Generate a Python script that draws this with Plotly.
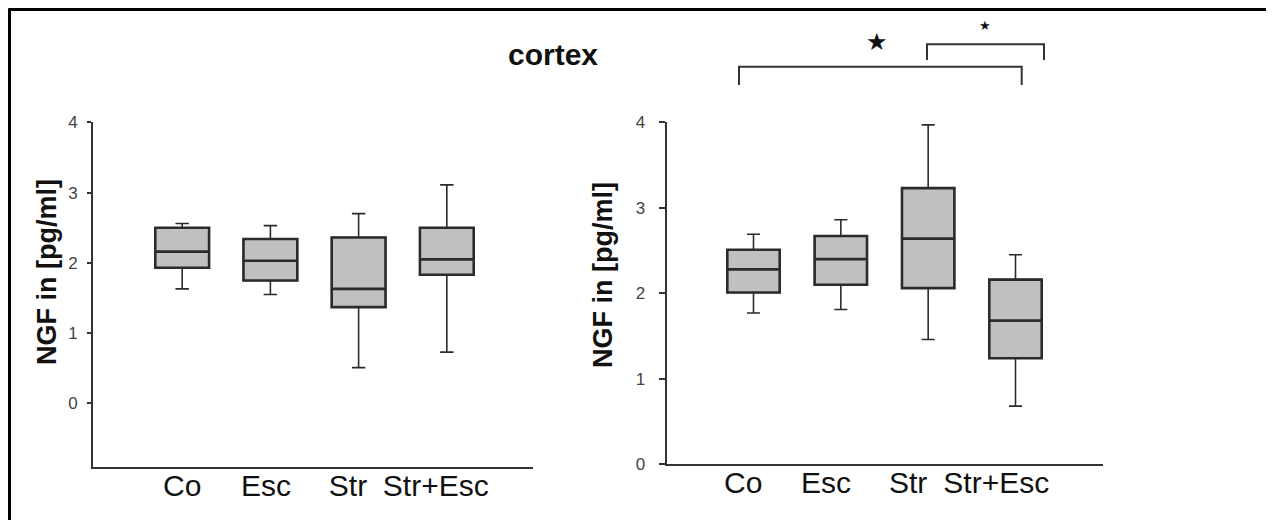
import plotly.graph_objects as go

W, H = 1274, 528
OFF = 8  # page body margin of the html page
FW, FH = W - 2 * OFF, H - 2 * OFF

categories = ["Co", "Esc", "Str", "Str+Esc"]

# left panel
left_low = [1.63, 1.55, 0.51, 0.73]
left_q1 = [1.93, 1.75, 1.37, 1.83]
left_med = [2.16, 2.03, 1.63, 2.05]
left_q3 = [2.50, 2.34, 2.36, 2.50]
left_high = [2.56, 2.53, 2.70, 3.11]

# right panel
right_low = [1.77, 1.81, 1.46, 0.68]
right_q1 = [2.01, 2.10, 2.06, 1.24]
right_med = [2.28, 2.40, 2.64, 1.68]
right_q3 = [2.51, 2.67, 3.23, 2.16]
right_high = [2.69, 2.86, 3.97, 2.45]

y_ticks = [0, 1, 2, 3, 4]
title_text = "cortex"
y_title = "NGF in [pg/ml]"

box_pos = [0, 1, 2, 3]
left_label_pos = [0, 0.95, 1.88, 2.875]
right_label_pos = [-0.117, 0.83, 1.77, 2.78]


def px(x):
    return (x - OFF) / FW


def py(y):
    return 1 - (y - OFF) / FH


fill = "#c0c0c0"
edge = "#2b2b2b"

fig = go.Figure()


def add_boxes(low, q1, med, q3, high, xa, ya, width):
    # whiskers (thin)
    fig.add_trace(go.Box(
        x=box_pos, q1=q1, median=med, q3=q3, lowerfence=low, upperfence=high,
        fillcolor=fill, line=dict(color=edge, width=1.6), width=width,
        whiskerwidth=0.25, boxpoints=False, showlegend=False,
        xaxis=xa, yaxis=ya, hoverinfo="skip",
    ))
    # boxes (thick outline)
    fig.add_trace(go.Box(
        x=box_pos, q1=q1, median=med, q3=q3, lowerfence=q1, upperfence=q3,
        fillcolor=fill, line=dict(color=edge, width=2.6), width=width,
        whiskerwidth=0, boxpoints=False, showlegend=False,
        xaxis=xa, yaxis=ya, hoverinfo="skip",
    ))


add_boxes(left_low, left_q1, left_med, left_q3, left_high, "x", "y", 0.61)
add_boxes(right_low, right_q1, right_med, right_q3, right_high, "x2", "y2", 0.6)

tickfont = dict(family="Liberation Sans, Arial, sans-serif", size=17, color="#444")
catfont = dict(family="Liberation Sans, Arial, sans-serif", size=30, color="#111")

fig.update_layout(
    width=FW, height=FH,
    margin=dict(l=0, r=0, t=0, b=0),
    paper_bgcolor="white", plot_bgcolor="white",
    xaxis=dict(
        domain=[px(93), px(533)], range=[-1.011, 3.977],
        tickvals=left_label_pos, ticktext=categories, tickfont=catfont,
        showline=True, linecolor="#333", linewidth=2, ticks="",
        showgrid=False, zeroline=False, anchor="y", automargin=False,
        ticklabelstandoff=-9,
    ),
    yaxis=dict(
        domain=[py(466.7), py(122.3)], range=[-0.9, 4],
        tickvals=y_ticks, tickfont=tickfont,
        showline=True, linecolor="#333", linewidth=2,
        ticks="outside", ticklen=4, tickwidth=1.5, tickcolor="#333",
        showgrid=False, zeroline=False, anchor="x", automargin=False,
        ticklabelstandoff=6,
    ),
    xaxis2=dict(
        domain=[px(666.7), px(1103)], range=[-0.994, 4.002],
        tickvals=right_label_pos, ticktext=categories, tickfont=catfont,
        showline=True, linecolor="#333", linewidth=2, ticks="",
        showgrid=False, zeroline=False, anchor="y2", automargin=False,
        ticklabelstandoff=-9,
    ),
    yaxis2=dict(
        domain=[py(464.3), py(122.3)], range=[0, 4],
        tickvals=y_ticks, tickfont=tickfont,
        showline=True, linecolor="#333", linewidth=2,
        ticks="outside", ticklen=6, tickwidth=1.5, tickcolor="#333",
        showgrid=False, zeroline=False, anchor="x2", automargin=False,
        ticklabelstandoff=10,
    ),
)

ann = []
ann.append(dict(text="<b>%s</b>" % title_text, x=px(553), y=py(54), xref="paper", yref="paper",
                showarrow=False, xanchor="center", yanchor="middle",
                font=dict(family="Liberation Sans, Arial, sans-serif", size=30, color="#111")))
for xc, yc in [(47, 272), (603, 275)]:
    ann.append(dict(text="<b>%s</b>" % y_title, x=px(xc), y=py(yc), xref="paper", yref="paper",
                    showarrow=False, textangle=-90, xanchor="center", yanchor="middle",
                    font=dict(family="Liberation Sans, Arial, sans-serif", size=27, color="#111")))
ann.append(dict(text="★", x=px(877), y=py(42), xref="paper", yref="paper", showarrow=False,
                xanchor="center", yanchor="middle",
                font=dict(family="DejaVu Sans", size=24, color="#111")))
ann.append(dict(text="★", x=px(985), y=py(25), xref="paper", yref="paper", showarrow=False,
                xanchor="center", yanchor="middle",
                font=dict(family="DejaVu Sans", size=13, color="#111")))
fig.update_layout(annotations=ann)

line = dict(color="#333", width=2)
shapes = []
# big bracket
shapes.append(dict(type="path", xref="paper", yref="paper",
                   path="M %f %f L %f %f L %f %f L %f %f" % (
                       px(739), py(85), px(739), py(66.7), px(1021.7), py(66.7), px(1021.7), py(85)),
                   line=line))
# small bracket
shapes.append(dict(type="path", xref="paper", yref="paper",
                   path="M %f %f L %f %f L %f %f L %f %f" % (
                       px(927), py(60), px(927), py(44.3), px(1044), py(44.3), px(1044), py(60)),
                   line=line))
# frame (top and left)
shapes.append(dict(type="line", xref="paper", yref="paper", x0=px(8.5), x1=1.0, y0=py(9.5), y1=py(9.5),
                   line=dict(color="black", width=3)))
shapes.append(dict(type="line", xref="paper", yref="paper", x0=px(9.5), x1=px(9.5), y0=py(8.5), y1=0,
                   line=dict(color="black", width=3)))
fig.update_layout(shapes=shapes)

fig.write_html("out.html")
